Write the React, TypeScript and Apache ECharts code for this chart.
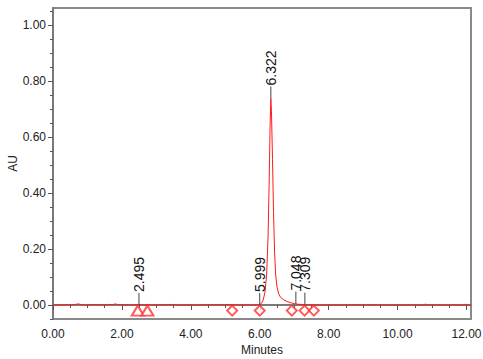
import React, { useEffect, useRef } from "react";
import * as echarts from "echarts";

// Chromatogram trace: [minutes, AU]
const trace: [number, number][] = [
  [0.0, 0.0], [0.3, 0.0005], [0.6, 0.001], [0.75, 0.004], [0.8, 0.001], [1.0, 0.0],
  [1.2, 0.002], [1.4, 0.0005], [1.6, 0.002], [1.75, 0.0015], [1.8, 0.004], [1.9, 0.001],
  [2.2, 0.0005], [2.5, 0.001], [2.8, 0.0], [3.2, 0.0005], [3.5, 0.002], [3.6, 0.0],
  [4.0, 0.0], [4.5, 0.0005], [5.0, 0.001], [5.5, 0.0], [5.95, 0.0],
  [6.0, 0.002], [6.05, 0.006], [6.1, 0.018], [6.15, 0.045], [6.2, 0.11], [6.24, 0.24],
  [6.27, 0.42], [6.3, 0.64], [6.322, 0.737], [6.34, 0.69], [6.37, 0.52], [6.4, 0.33],
  [6.43, 0.19], [6.46, 0.11], [6.5, 0.065], [6.55, 0.04], [6.6, 0.028], [6.7, 0.018],
  [6.8, 0.012], [6.9, 0.008], [7.0, 0.005], [7.1, 0.003], [7.3, 0.001], [7.6, 0.0],
  [8.0, 0.0], [9.0, 0.0005], [10.0, 0.0], [10.78, 0.0], [10.8, 0.004], [10.85, 0.0],
  [11.5, 0.0], [11.95, 0.0], [11.97, 0.004], [12.0, 0.0], [12.13, 0.0],
];

// Peak labels
const peakTimes = [2.495, 5.999, 6.322, 7.048, 7.309];
const peakHeights = [0.0, 0.0, 0.737, 0.005, 0.001];

// Integration markers
const triangleTimes = [2.46, 2.74];
const diamondTimes = [5.2, 6.0, 6.93, 7.3, 7.57];
const markerLevel = -0.02;

// Axes
const xLabelValues = [0, 2, 4, 6, 8, 10, 12];
const xMinorValues = [0, 0.5, 1, 1.5, 2, 2.5, 3, 3.5, 4, 4.5, 5, 5.5, 6, 6.5, 7, 7.5, 8, 8.5, 9, 9.5, 10, 10.5, 11, 11.5, 12];
const yLabelValues = [0, 0.2, 0.4, 0.6, 0.8, 1.0];
const yMinorValues = [-0.05, 0, 0.05, 0.1, 0.15, 0.2, 0.25, 0.3, 0.35, 0.4, 0.45, 0.5, 0.55, 0.6, 0.65, 0.7, 0.75, 0.8, 0.85, 0.9, 0.95, 1.0, 1.05];

const FONT = "'Liberation Sans', Arial, sans-serif";
const AXIS_GREY = "#7a7a7a";

export default function App() {
  const ref = useRef<HTMLDivElement>(null);
  useEffect(() => {
    if (!ref.current) return;
    const chart = echarts.init(ref.current, null, { renderer: "svg" });
    const xCommon = { type: "value", min: 0, max: 12.13, gridIndex: 0, position: "bottom", splitLine: { show: false } };
    const yCommon = { type: "value", min: -0.05, max: 1.06, gridIndex: 0, position: "left", splitLine: { show: false } };
    chart.setOption({
      animation: false,
      backgroundColor: "#fff",
      grid: {
        left: 53, top: 8, right: 12, bottom: 40,
        containLabel: false, outerBoundsMode: "none",
        show: true, borderColor: "#8a8a8a", borderWidth: 2, backgroundColor: "transparent",
      },
      xAxis: [
        {
          ...xCommon,
          name: "Minutes",
          nameLocation: "middle",
          nameGap: 25,
          nameMoveOverlap: false,
          nameTextStyle: { color: "#222", fontSize: 12, fontFamily: FONT },
          axisLine: { show: true, lineStyle: { color: AXIS_GREY, width: 2 } },
          axisTick: { show: true, length: 5, customValues: xLabelValues, lineStyle: { color: "#555" } },
          axisLabel: { show: true, margin: 9, customValues: xLabelValues, color: "#222", fontSize: 12, fontFamily: FONT, formatter: (v: number) => v.toFixed(2) },
        },
        {
          ...xCommon,
          axisLine: { show: false },
          axisTick: { show: true, length: 3, customValues: xMinorValues, lineStyle: { color: "#555" } },
          axisLabel: { show: false },
        },
      ],
      yAxis: [
        {
          ...yCommon,
          name: "AU",
          nameLocation: "middle",
          nameGap: 34,
          nameMoveOverlap: false,
          nameTextStyle: { color: "#222", fontSize: 12, fontFamily: FONT },
          axisLine: { show: true, lineStyle: { color: AXIS_GREY, width: 2 } },
          axisTick: { show: true, length: 5, customValues: yLabelValues, lineStyle: { color: "#555" } },
          axisLabel: { show: true, margin: 7, customValues: yLabelValues, color: "#222", fontSize: 12, fontFamily: FONT, formatter: (v: number) => v.toFixed(2) },
        },
        {
          ...yCommon,
          axisLine: { show: false },
          axisTick: { show: true, length: 3, customValues: yMinorValues, lineStyle: { color: "#555" } },
          axisLabel: { show: false },
        },
      ],
      series: [
        {
          type: "line",
          data: trace,
          xAxisIndex: 0,
          yAxisIndex: 0,
          showSymbol: false,
          symbol: "none",
          lineStyle: { color: "#ff1a1a", width: 1 },
          z: 3,
        },
        {
          type: "scatter",
          data: triangleTimes.map((t) => [t, markerLevel]),
          symbol: "emptyTriangle",
          symbolSize: [12, 10],
          itemStyle: { color: "#ff3030", borderWidth: 1 },
          z: 2,
        },
        {
          type: "scatter",
          data: diamondTimes.map((t) => [t, markerLevel]),
          symbol: "emptyDiamond",
          symbolSize: [10, 10],
          itemStyle: { color: "#ff3030", borderWidth: 1 },
          z: 2,
        },
        {
          type: "custom",
          data: peakTimes.map((t, i) => [t, peakHeights[i]]),
          z: 4,
          renderItem: (params: any, api: any) => {
            const p = api.coord([api.value(0), api.value(1)]);
            return {
              type: "group",
              children: [
                { type: "line", shape: { x1: p[0], y1: p[1], x2: p[0], y2: p[1] - 12 }, style: { stroke: "#444", lineWidth: 1 } },
                {
                  type: "text",
                  x: p[0],
                  y: p[1] - 13,
                  rotation: Math.PI / 2,
                  style: {
                    text: api.value(0).toFixed(3),
                    fill: "#111",
                    fontSize: 14,
                    fontFamily: FONT,
                    align: "left",
                    verticalAlign: "middle",
                  },
                },
              ],
            };
          },
        },
      ],
    });
    return () => chart.dispose();
  }, []);
  return <div ref={ref} style={{ position: "fixed", left: 0, top: 0, width: 483, height: 359 }} />;
}
